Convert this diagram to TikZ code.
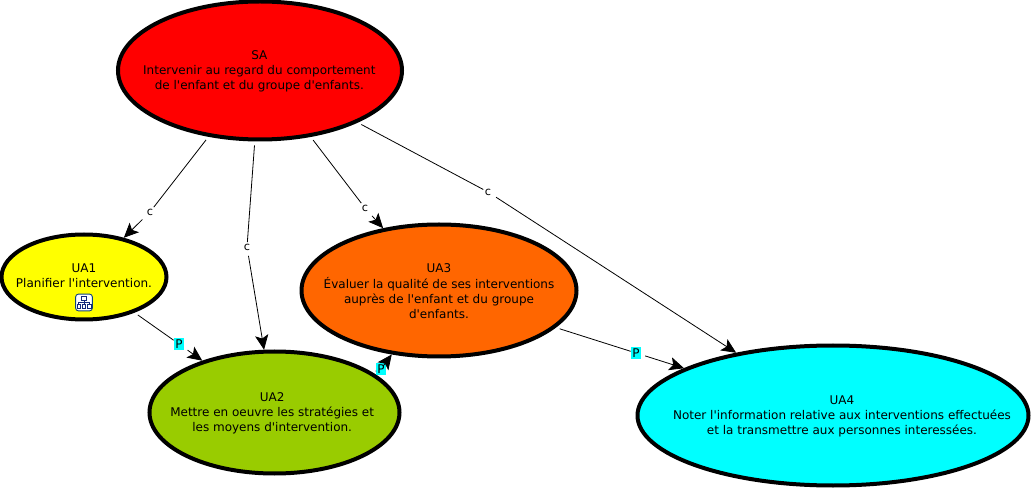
\documentclass[tikz,border=0pt]{standalone}
\usepackage{fontspec}
\setmainfont{DejaVu Sans}
\usetikzlibrary{shapes.geometric,arrows.meta}
\newcommand{\ctext}[3]{\raisebox{0pt}[\dimexpr\height+#2\relax][\depth]{\makebox[0pt]{\hspace*{#1}\begin{tabular}{@{}c@{}}#3\end{tabular}}}}
\newcommand{\qs}{\textquotesingle}
\definecolor{cRed}{RGB}{255,0,0}
\definecolor{cYel}{RGB}{255,255,0}
\definecolor{cGrn}{RGB}{153,204,0}
\definecolor{cOra}{RGB}{255,102,0}
\definecolor{cCya}{RGB}{0,255,255}
\definecolor{cIcon}{RGB}{20,40,120}
\tikzset{
  x=0.75pt,y=-0.75pt,
  concept/.style={ellipse,draw=black,line width=3pt,inner sep=0pt,font=\fontsize{9}{11.25}\selectfont,text=black},
  linktxt/.style={inner sep=1.2pt,outer sep=0pt,font=\fontsize{8.5}{9}\selectfont,fill=white},
  plink/.style={inner sep=1.3pt,outer sep=0pt,fill=cCya,font=\fontsize{9}{9}\selectfont},
  conn/.style={draw=black,line width=0.6pt,shorten <=3pt},
  connar/.style={conn,-{Stealth[length=11pt,width=10pt,inset=2.5pt]}},
}
\begin{document}
\begin{tikzpicture}
\useasboundingbox (0,0) rectangle (1032,488);
\node[concept,fill=cRed,minimum width=213pt,minimum height=103.5pt] (SA) at (260,70.5) {\ctext{-1pt}{1.5pt}{SA\\Intervenir au regard du comportement\\de l\qs enfant et du groupe d\qs enfants.}};
\node[concept,fill=cYel,minimum width=123.75pt,minimum height=63.75pt] (UA1) at (84,277) {\ctext{0pt}{0pt}{UA1\\Planifier l\qs intervention.}};
\node[concept,fill=cGrn,minimum width=187.5pt,minimum height=91.5pt] (UA2) at (274.5,412.5) {\ctext{-3.5pt}{1.5pt}{UA2\\Mettre en oeuvre les stratégies et\\les moyens d\qs intervention.}};
\node[concept,fill=cOra,minimum width=206.25pt,minimum height=99pt] (UA3) at (439,290.5) {\ctext{0pt}{3pt}{UA3\\Évaluer la qualité de ses interventions\\auprès de l\qs enfant et du groupe\\d\qs enfants.}};
\node[concept,fill=cCya,minimum width=293.25pt,minimum height=105pt] (UA4) at (833,415.5) {\ctext{13.5pt}{1.5pt}{UA4\\Noter l\qs information relative aux interventions effectuées\\et la transmettre aux personnes interessées.}};
% icon
\node[draw=cIcon!70!teal,fill=white,rounded corners=2pt,line width=0.7pt,minimum size=12.5pt,inner sep=0pt] (icon) at (84,302.5) {};
\draw[cIcon,line width=0.7pt] (81.5,296.5) rectangle (86.5,300.5) (77,304) rectangle (80.5,308) (82.3,304) rectangle (85.7,308) (87.5,304) rectangle (91,308);
\draw[cIcon,line width=0.5pt] (84,300.5)--(84,304) (78.8,304)--(78.8,302)--(89.2,302)--(89.2,304);
% link labels
\node[linktxt] (c1) at (150,212) {c};
\node[linktxt] (c2) at (247,247) {c};
\node[linktxt] (c3) at (365,208) {c};
\node[linktxt] (c4) at (488,192) {c};
\node[plink] (p1) at (179,344) {P};
\node[plink] (p2) at (381,369) {P};
\node[plink] (p3) at (636,353) {P};
% connectors
\draw[conn] (SA) -- (c1);
\draw[connar] (c1) -- (UA1);
\draw[conn] (SA) -- (c2);
\draw[connar] (c2) -- (UA2);
\draw[conn] (SA) -- (c3);
\draw[connar] (c3) -- (UA3);
\draw[conn] (SA) -- (c4);
\draw[connar] (c4) -- (UA4);
\draw[conn] (UA1) -- (p1);
\draw[connar] (p1) -- (UA2);
\draw[conn] (UA2) -- (p2);
\draw[connar] (p2) -- (UA3);
\draw[conn] (UA3) -- (p3);
\draw[connar] (p3) -- (UA4);
\end{tikzpicture}
\end{document}
